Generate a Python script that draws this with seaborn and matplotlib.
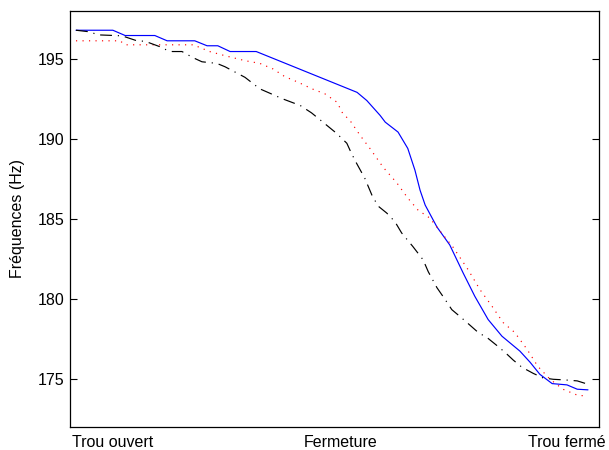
import matplotlib
matplotlib.use("Agg")
import matplotlib.pyplot as plt
import seaborn as sns
import pandas as pd

# Position along the closing gesture (0 = open hole, 100 = closed hole)
blue_x = [0, 7.2, 9.6, 15.4, 17.8, 23.2, 25.6, 27.7, 30.1, 35.2, 54.9, 56.8, 59.4, 60.4,
          62.9, 64.8, 66.2, 67.2, 68.2, 70.5, 73.0, 75.6, 77.9, 80.5, 83.2, 86.7, 88.7,
          90.6, 93.0, 95.9, 97.9, 100]
blue_y = [196.78, 196.78, 196.45, 196.45, 196.12, 196.12, 195.81, 195.81, 195.45, 195.45,
          192.90, 192.39, 191.46, 191.04, 190.42, 189.40, 188.04, 186.79, 185.86, 184.49,
          183.37, 181.63, 180.16, 178.71, 177.67, 176.74, 176.04, 175.29, 174.71, 174.63,
          174.36, 174.32]

red_x = [0, 8.6, 9.6, 22.9, 26.2, 29.1, 33.0, 35.9, 38.5, 40.8, 43.4, 46.1, 48.6, 51.0,
         52.1, 53.5, 55.5, 57.4, 60.0, 62.7, 64.8, 66.8, 69.1, 71.7, 73.6, 76.6, 78.9,
         81.3, 83.4, 85.7, 88.1, 90.2, 92.6, 95.1, 97.9, 100]
red_y = [196.12, 196.12, 195.87, 195.87, 195.44, 195.19, 194.88, 194.71, 194.36, 193.88,
         193.53, 193.12, 192.81, 192.28, 191.58, 191.15, 190.21, 189.40, 188.22, 187.23,
         186.30, 185.55, 185.05, 184.00, 183.25, 181.82, 180.58, 179.52, 178.53, 177.90,
         176.85, 175.79, 174.98, 174.36, 173.99, 173.92]

black_x = [0, 2.7, 4.3, 7.6, 9.0, 11.9, 13.5, 16.4, 17.6, 18.8, 20.7, 22.9, 24.6, 27.5,
           29.1, 33.0, 35.9, 40.4, 43.8, 46.0, 48.0, 50.9, 52.9, 53.8, 54.8, 56.4, 57.8,
           59.0, 60.7, 62.3, 63.6, 65.8, 67.8, 68.8, 70.5, 72.1, 73.4, 75.0, 76.8, 78.5,
           80.5, 82.2, 83.8, 85.4, 87.1, 89.3, 91.2, 93.2, 95.5, 97.9, 100]
black_y = [196.78, 196.68, 196.49, 196.45, 196.43, 196.12, 196.09, 195.75, 195.56, 195.45,
           195.45, 195.06, 194.81, 194.71, 194.50, 193.84, 193.12, 192.49, 192.08, 191.62,
           191.10, 190.34, 189.72, 189.09, 188.47, 187.54, 186.48, 185.80, 185.36, 184.82,
           184.12, 183.27, 182.44, 181.70, 180.70, 179.96, 179.33, 178.90, 178.40, 177.92,
           177.53, 177.09, 176.66, 176.18, 175.73, 175.35, 175.07, 174.98, 174.94, 174.88,
           174.67]

xtick_pos = [7.1, 51.7, 95.8]
xtick_labels = ["Trou ouvert", "Fermeture", "Trou fermé"]
ytick_vals = [175, 180, 185, 190, 195]

sns.set_style("white")
plt.rcParams['font.family'] = ['Liberation Sans', 'DejaVu Sans']
plt.rcParams['text.color'] = 'black'
plt.rcParams['axes.labelcolor'] = 'black'
plt.rcParams['xtick.color'] = 'black'
plt.rcParams['ytick.color'] = 'black'

fig = plt.figure(figsize=(6.09, 4.5), dpi=100)
ax = fig.add_axes([70 / 609, 1 - 427 / 450, 529 / 609, 416.3 / 450])

df_b = pd.DataFrame({"x": blue_x, "y": blue_y})
df_r = pd.DataFrame({"x": red_x, "y": red_y})
df_k = pd.DataFrame({"x": black_x, "y": black_y})

sns.lineplot(data=df_b, x="x", y="y", ax=ax, color="#0000ff", linewidth=0.85,
             sort=False, estimator=None)
l = sns.lineplot(data=df_r, x="x", y="y", ax=ax, color="#ff0000", linewidth=0.85,
                 sort=False, estimator=None).lines[-1]
l.set_linestyle((0, (1, 4.5)))
k = sns.lineplot(data=df_k, x="x", y="y", ax=ax, color="black", linewidth=0.85,
                 sort=False, estimator=None).lines[-1]
k.set_linestyle((0, (10, 5, 1, 5)))

ax.set_xlim(-1.17, 102.15)
ax.set_ylim(172, 198)
ax.set_yticks(ytick_vals)
ax.set_xticks(xtick_pos)
ax.set_xticklabels(xtick_labels, fontsize=11.5, color='black')
ax.tick_params(axis='x', length=0, pad=6, labelcolor='black')
ax.tick_params(axis='y', direction='in', length=5, width=0.8, right=True, left=True,
               labelsize=11.5, pad=4, color='black', labelcolor='black')
ax.set_xlabel("")
ax.set_ylabel("Fréquences (Hz)", fontsize=11.5, labelpad=9, color='black')
for s in ax.spines.values():
    s.set_color("black")
    s.set_linewidth(0.9)
    s.set_visible(True)

fig.savefig("out.png", dpi=100, facecolor="white")
